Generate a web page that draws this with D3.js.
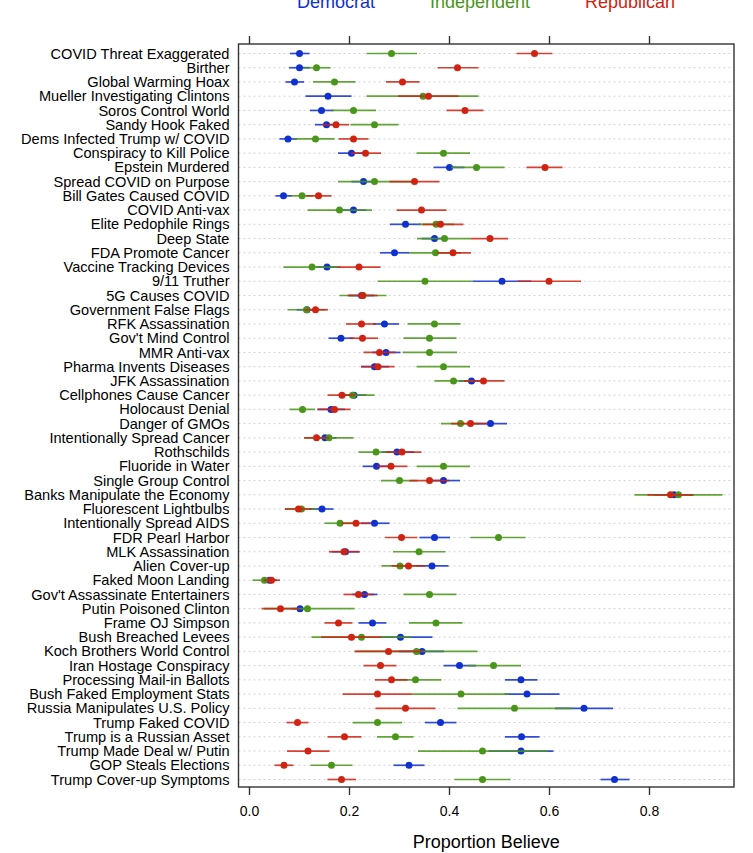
<!DOCTYPE html>
<html>
<head>
<meta charset="utf-8">
<script src="https://cdn.jsdelivr.net/npm/d3@7"></script>
<style>
  body { margin: 0; background: #fff; }
  text { font-family: "Liberation Sans", Arial, Helvetica, sans-serif; }
</style>
</head>
<body>
<svg id="chart"></svg>
<script>
// categories, top to bottom
const categories = [
  "COVID Threat Exaggerated", "Birther", "Global Warming Hoax", "Mueller Investigating Clintons",
  "Soros Control World", "Sandy Hook Faked", "Dems Infected Trump w/ COVID", "Conspiracy to Kill Police",
  "Epstein Murdered", "Spread COVID on Purpose", "Bill Gates Caused COVID", "COVID Anti-vax",
  "Elite Pedophile Rings", "Deep State", "FDA Promote Cancer", "Vaccine Tracking Devices",
  "9/11 Truther", "5G Causes COVID", "Government False Flags", "RFK Assassination",
  "Gov't Mind Control", "MMR Anti-vax", "Pharma Invents Diseases", "JFK Assassination",
  "Cellphones Cause Cancer", "Holocaust Denial", "Danger of GMOs", "Intentionally Spread Cancer",
  "Rothschilds", "Fluoride in Water", "Single Group Control", "Banks Manipulate the Economy",
  "Fluorescent Lightbulbs", "Intentionally Spread AIDS", "FDR Pearl Harbor", "MLK Assassination",
  "Alien Cover-up", "Faked Moon Landing", "Gov't Assassinate Entertainers", "Putin Poisoned Clinton",
  "Frame OJ Simpson", "Bush Breached Levees", "Koch Brothers World Control", "Iran Hostage Conspiracy",
  "Processing Mail-in Ballots", "Bush Faked Employment Stats", "Russia Manipulates U.S. Policy", "Trump Faked COVID",
  "Trump is a Russian Asset", "Trump Made Deal w/ Putin", "GOP Steals Elections", "Trump Cover-up Symptoms"
];

// Democrat
const demEst = [0.101,0.101,0.091,0.158,0.145,0.155,0.078,0.205,0.401,0.229,0.069,0.209,0.313,0.371,0.291,0.156,
  0.506,0.225,0.116,0.271,0.184,0.274,0.251,0.445,0.210,0.164,0.483,0.152,0.296,0.255,0.389,0.850,
  0.146,0.251,0.371,0.193,0.366,0.041,0.231,0.102,0.247,0.303,0.346,0.421,0.544,0.556,0.670,0.383,
  0.545,0.544,0.320,0.731];
const demLo = [0.082,0.080,0.073,0.113,0.122,0.132,0.061,0.178,0.369,0.205,0.053,0.184,0.282,0.345,0.262,0.134,
  0.447,0.200,0.095,0.248,0.159,0.247,0.224,0.420,0.185,0.137,0.451,0.130,0.265,0.227,0.364,0.810,
  0.121,0.224,0.341,0.165,0.334,0.028,0.207,0.085,0.219,0.264,0.300,0.389,0.512,0.511,0.612,0.352,
  0.512,0.479,0.289,0.703];
const demHi = [0.121,0.121,0.110,0.205,0.169,0.178,0.096,0.231,0.431,0.253,0.086,0.235,0.344,0.397,0.321,0.177,
  0.565,0.250,0.137,0.300,0.209,0.303,0.280,0.470,0.235,0.192,0.516,0.175,0.330,0.283,0.422,0.890,
  0.169,0.281,0.402,0.221,0.399,0.056,0.257,0.120,0.275,0.367,0.390,0.454,0.577,0.621,0.728,0.415,
  0.581,0.609,0.351,0.761];

// Independent
const indEst = [0.285,0.135,0.171,0.348,0.209,0.251,0.133,0.389,0.455,0.251,0.106,0.181,0.374,0.391,0.373,0.126,
  0.352,0.228,0.115,0.371,0.361,0.361,0.389,0.409,0.207,0.107,0.423,0.160,0.254,0.389,0.301,0.859,
  0.105,0.182,0.499,0.340,0.302,0.031,0.361,0.117,0.374,0.225,0.335,0.489,0.333,0.424,0.531,0.257,
  0.293,0.467,0.165,0.467];
const indLo = [0.235,0.111,0.128,0.235,0.165,0.203,0.091,0.335,0.404,0.178,0.084,0.117,0.339,0.336,0.321,0.069,
  0.257,0.181,0.077,0.317,0.309,0.307,0.335,0.371,0.177,0.081,0.384,0.111,0.219,0.335,0.264,0.771,
  0.072,0.151,0.443,0.288,0.265,0.007,0.309,0.030,0.320,0.125,0.213,0.437,0.284,0.327,0.417,0.207,
  0.256,0.338,0.123,0.411];
const indHi = [0.336,0.163,0.213,0.459,0.254,0.299,0.171,0.442,0.511,0.325,0.128,0.246,0.410,0.444,0.424,0.184,
  0.447,0.275,0.153,0.423,0.415,0.416,0.442,0.448,0.251,0.132,0.460,0.209,0.289,0.442,0.337,0.947,
  0.135,0.213,0.553,0.393,0.339,0.054,0.415,0.211,0.427,0.324,0.457,0.544,0.385,0.520,0.647,0.306,
  0.329,0.597,0.207,0.523];

// Republican
const repEst = [0.571,0.417,0.307,0.359,0.432,0.174,0.209,0.233,0.592,0.331,0.139,0.345,0.383,0.482,0.408,0.220,
  0.600,0.227,0.133,0.225,0.227,0.261,0.258,0.469,0.186,0.171,0.443,0.135,0.306,0.284,0.361,0.843,
  0.099,0.214,0.305,0.190,0.319,0.045,0.219,0.063,0.179,0.205,0.279,0.263,0.285,0.257,0.313,0.097,
  0.191,0.118,0.070,0.185];
const repLo = [0.535,0.377,0.274,0.298,0.395,0.147,0.179,0.204,0.555,0.281,0.114,0.295,0.347,0.444,0.377,0.177,
  0.537,0.197,0.111,0.194,0.201,0.229,0.224,0.430,0.157,0.137,0.404,0.110,0.274,0.256,0.321,0.797,
  0.072,0.185,0.272,0.160,0.285,0.030,0.189,0.025,0.151,0.144,0.211,0.229,0.252,0.187,0.253,0.075,
  0.157,0.076,0.051,0.157];
const repHi = [0.607,0.459,0.341,0.419,0.469,0.200,0.239,0.264,0.627,0.381,0.165,0.395,0.429,0.518,0.444,0.263,
  0.664,0.257,0.158,0.254,0.258,0.293,0.291,0.511,0.212,0.203,0.477,0.160,0.345,0.317,0.400,0.887,
  0.125,0.243,0.337,0.221,0.352,0.062,0.250,0.100,0.207,0.265,0.347,0.295,0.317,0.327,0.373,0.119,
  0.225,0.161,0.089,0.214];

const groups = ["Democrat", "Independent", "Republican"];
const xTicks = [0.0, 0.2, 0.4, 0.6, 0.8];

const series = [
  {name: groups[0], color: "#1030d0", est: demEst, lo: demLo, hi: demHi},
  {name: groups[1], color: "#4a961a", est: indEst, lo: indLo, hi: indHi},
  {name: groups[2], color: "#d02312", est: repEst, lo: repLo, hi: repHi}
];

const W = 753, H = 853;
const box = {left: 238.5, right: 734, top: 44, bottom: 787};

const svg = d3.select('#chart').attr('width', W).attr('height', H);

const x = d3.scaleLinear().domain([-0.021, 0.97]).range([box.left, box.right]);
const y = d3.scalePoint().domain(categories).range([53.5, 779.5]);

// dotted reference lines
svg.append('g')
  .selectAll('line')
  .data(categories)
  .join('line')
  .attr('x1', box.left).attr('x2', box.right)
  .attr('y1', d => y(d)).attr('y2', d => y(d))
  .attr('stroke', '#d2d2d2')
  .attr('stroke-width', 1)
  .attr('stroke-dasharray', '2,3');

// category labels
svg.append('g')
  .selectAll('text')
  .data(categories)
  .join('text')
  .attr('x', 229.5)
  .attr('y', d => y(d))
  .attr('dy', '0.35em')
  .attr('text-anchor', 'end')
  .attr('font-size', '14.6px')
  .attr('fill', '#000')
  .text(d => d);

// intervals and points, one group at a time
series.forEach(s => {
  const rows = categories.map((c, i) => ({cat: c, est: s.est[i], lo: s.lo[i], hi: s.hi[i]}));
  const g = svg.append('g');
  g.selectAll('line')
    .data(rows)
    .join('line')
    .attr('x1', d => x(d.lo)).attr('x2', d => x(d.hi))
    .attr('y1', d => y(d.cat)).attr('y2', d => y(d.cat))
    .attr('stroke', s.color)
    .attr('stroke-opacity', 0.85)
    .attr('stroke-width', 1.7);
  g.selectAll('circle')
    .data(rows)
    .join('circle')
    .attr('cx', d => x(d.est))
    .attr('cy', d => y(d.cat))
    .attr('r', 3.5)
    .attr('fill', s.color);
});

// frame
svg.append('rect')
  .attr('x', box.left).attr('y', box.top)
  .attr('width', box.right - box.left).attr('height', box.bottom - box.top)
  .attr('fill', 'none')
  .attr('stroke', '#333')
  .attr('stroke-width', 1.4);

// axes
const bottomAxis = svg.append('g')
  .attr('transform', `translate(0,${box.bottom})`)
  .call(d3.axisBottom(x).tickValues(xTicks).tickFormat(d3.format('.1f')).tickSize(8).tickPadding(11));
bottomAxis.select('.domain').remove();
bottomAxis.selectAll('line').attr('stroke', '#333').attr('stroke-width', 1.4);
bottomAxis.selectAll('text').attr('font-size', '14px').attr('fill', '#000')
  .attr('font-family', '"Liberation Sans", Arial, sans-serif');

const topAxis = svg.append('g')
  .attr('transform', `translate(0,${box.top})`)
  .call(d3.axisTop(x).tickValues(xTicks).tickFormat('').tickSize(8));
topAxis.select('.domain').remove();
topAxis.selectAll('line').attr('stroke', '#333').attr('stroke-width', 1.4);

svg.append('text')
  .attr('x', (box.left + box.right) / 2)
  .attr('y', 848)
  .attr('text-anchor', 'middle')
  .attr('font-size', '18px')
  .attr('fill', '#000')
  .text('Proportion Believe');

// legend (top, partly clipped like the original)
const legendX = [336, 480, 630];
svg.append('g')
  .selectAll('text')
  .data(series)
  .join('text')
  .attr('x', (d, i) => legendX[i])
  .attr('y', 8)
  .attr('text-anchor', 'middle')
  .attr('font-size', '18px')
  .attr('fill', d => d.color)
  .text(d => d.name);
</script>
</body>
</html>
